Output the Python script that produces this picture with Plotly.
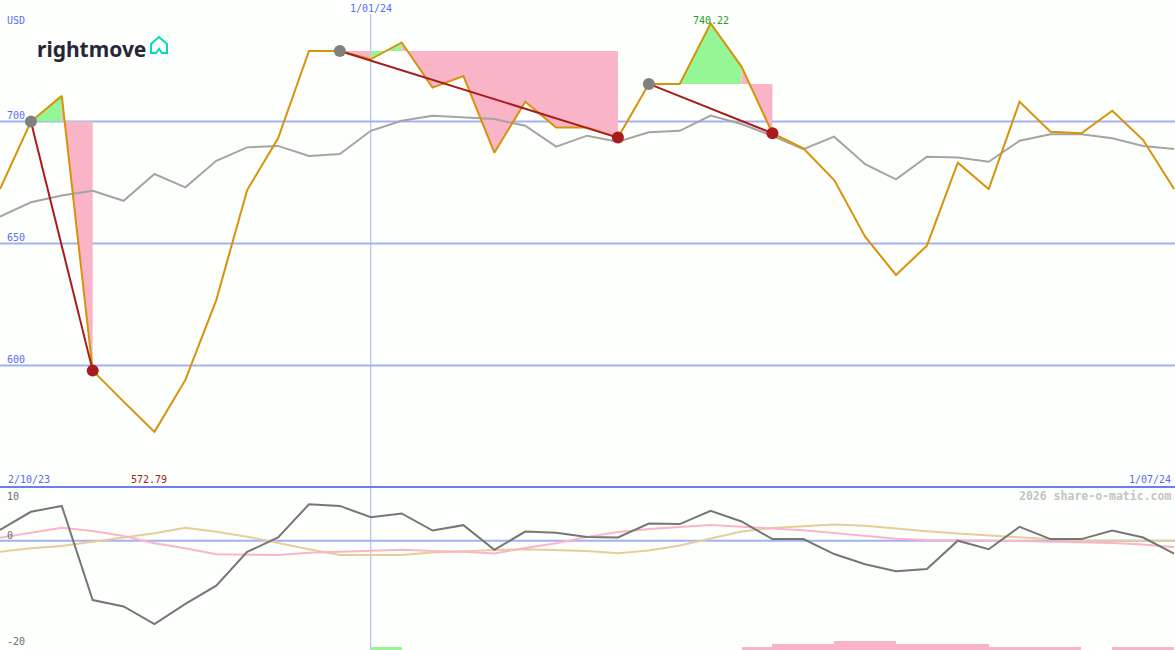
import plotly.graph_objects as go

W, H = 1175, 650

# ---------------- data ----------------
idx = list(range(39))
price = [672.3, 700.0, 710.5, 597.9, 585.2, 572.79, 594.1, 626.8, 671.9, 693.1,
         728.9, 728.9, 725.5, 732.4, 713.9, 718.6, 687.2, 708.1, 697.5, 697.5,
         693.4, 715.4, 715.4, 740.22, 722.5, 695.2, 689.0, 676.0, 652.8, 637.1,
         649.1, 683.1, 672.3, 708.1, 695.8, 695.2, 704.4, 692.4, 672.3]
avg = [661.0, 666.9, 669.7, 671.6, 667.5, 678.5, 673.0, 683.9, 689.4, 690.0,
       685.9, 686.7, 696.2, 700.3, 702.4, 701.7, 701.0, 698.3, 689.7, 694.2,
       691.7, 695.6, 696.2, 702.4, 699.0, 694.1, 688.7, 693.8, 682.5, 676.3,
       685.6, 685.2, 683.5, 692.1, 694.8, 694.8, 693.1, 690.0, 688.7]
momentum = [2.0, 5.4, 6.5, -11.1, -12.3, -15.6, -11.8, -8.4, -2.1, 0.6,
            6.8, 6.5, 4.4, 5.1, 1.9, 2.9, -1.7, 1.7, 1.5, 0.7,
            0.6, 3.2, 3.1, 5.6, 3.6, 0.3, 0.3, -2.5, -4.4, -5.7,
            -5.3, 0.0, -1.6, 2.6, 0.3, 0.3, 1.9, 0.6, -2.4]
osc_pink = [0.56, 1.5, 2.43, 1.81, 0.88, -0.49, -1.42, -2.54, -2.67, -2.67,
            -2.24, -2.06, -1.74, -1.68, -1.93, -2.06, -2.39, -1.36, -0.49, 0.69,
            1.63, 2.19, 2.56, 2.93, 2.62, 2.28, 1.94, 1.44, 0.88, 0.36,
            0.13, 0.13, 0.04, -0.06, -0.15, -0.24, -0.43, -0.71, -1.23]
osc_tan = [-2.06, -1.42, -0.99, -0.19, 0.64, 1.38, 2.43, 1.68, 0.75, -0.49,
           -1.61, -2.67, -2.67, -2.67, -2.22, -1.93, -1.74, -1.61, -1.74, -1.93,
           -2.36, -1.84, -0.90, 0.41, 1.72, 2.37, 2.65, 3.03, 2.80, 2.24,
           1.76, 1.35, 0.97, 0.60, 0.28, 0.07, 0.0, 0.0, 0.0]
# trend signals: (start index, end index)
signals = [(1, 3), (11, 20), (21, 25)]
# bottom bars (index -> level)
bars_green_idx = [12]
bars_green_lvl = [1]
bars_pink_idx = [24, 25, 26, 27, 28, 29, 30, 31, 32, 33, 34, 36, 37]
bars_pink_lvl = [1, 2, 2, 3, 3, 2, 2, 2, 1, 1, 1, 1, 1]
price_grid = [700, 650, 600]
osc_labels = [("10", 10), ("0", 0), ("-20", -20)]
date_left, date_mid, date_right = "2/10/23", "1/01/24", "1/07/24"
mid_idx = 12
hi_idx, lo_idx = 23, 5
currency = "USD"

# ---------------- style ----------------
BG = "#fcfffc"
GRID = "#a4b0f4"
SEP = "#6a7ef0"
BLUE_TXT = "#5a6cf5"
ORANGE = "#d8920a"
AVG_C = "#a4a4a4"
RED = "#a81c1c"
PINK = "#f9b4c8"
GREEN = "#94f694"
MOM_C = "#767676"
OSC_P = "#fcb4c8"
OSC_T = "#e6cd9c"
FONT = "DejaVu Sans Mono"

def px(x):
    return x / W

def py(y):
    return 1 - y / H

main_dom = [py(486), 1.0]
low_dom = [0.0, py(488)]
y_main = [550.61, 749.80]
y_low = [-20.43, 9.85]
x_rng = [0, 38.03]

fig = go.Figure()

# fills between price and signal level (contiguous runs merged)
for s, e in signals:
    L = price[s]
    runs = []
    for i in range(s, e):
        if price[i + 1] == L:
            continue
        col = GREEN if price[i + 1] > L else PINK
        if runs and runs[-1][0] == col and runs[-1][2] == i:
            runs[-1][2] = i + 1
        else:
            runs.append([col, i, i + 1])
    for col, a, b in runs:
        xs = [a] + list(range(a, b + 1)) + [b, a]
        ys = [L] + price[a:b + 1] + [L, L]
        fig.add_trace(go.Scatter(
            x=xs, y=ys, mode="lines", fill="toself", fillcolor=col,
            line=dict(width=0), hoverinfo="skip", showlegend=False,
            xaxis="x", yaxis="y"))

fig.add_trace(go.Scatter(x=idx, y=avg, mode="lines",
                         line=dict(color=AVG_C, width=2), showlegend=False,
                         xaxis="x", yaxis="y"))
fig.add_trace(go.Scatter(x=idx, y=price, mode="lines",
                         line=dict(color=ORANGE, width=2), showlegend=False,
                         xaxis="x", yaxis="y"))
for s, e in signals:
    fig.add_trace(go.Scatter(x=[s, e], y=[price[s], price[e]], mode="lines",
                             line=dict(color=RED, width=2), showlegend=False,
                             xaxis="x", yaxis="y"))
fig.add_trace(go.Scatter(x=[s for s, e in signals], y=[price[s] for s, e in signals],
                         mode="markers", marker=dict(color="#808080", size=12),
                         showlegend=False, xaxis="x", yaxis="y"))
fig.add_trace(go.Scatter(x=[e for s, e in signals], y=[price[e] for s, e in signals],
                         mode="markers", marker=dict(color=RED, size=12),
                         showlegend=False, xaxis="x", yaxis="y"))

# lower panel
fig.add_trace(go.Bar(x=bars_green_idx, y=bars_green_lvl, width=1, offset=0,
                     marker=dict(color=GREEN, line=dict(width=0)),
                     showlegend=False, xaxis="x", yaxis="y3"))
fig.add_trace(go.Bar(x=bars_pink_idx, y=bars_pink_lvl, width=1, offset=0,
                     marker=dict(color=PINK, line=dict(width=0)),
                     showlegend=False, xaxis="x", yaxis="y3"))
fig.add_trace(go.Scatter(x=idx, y=osc_tan, mode="lines",
                         line=dict(color=OSC_T, width=2), showlegend=False,
                         xaxis="x", yaxis="y2"))
fig.add_trace(go.Scatter(x=idx, y=osc_pink, mode="lines",
                         line=dict(color=OSC_P, width=2), showlegend=False,
                         xaxis="x", yaxis="y2"))
fig.add_trace(go.Scatter(x=idx, y=momentum, mode="lines",
                         line=dict(color=MOM_C, width=2), showlegend=False,
                         xaxis="x", yaxis="y2"))

shapes = []
for g in price_grid:
    shapes.append(dict(type="line", xref="paper", yref="y", x0=0, x1=1, y0=g, y1=g,
                       line=dict(color=GRID, width=2), layer="below"))
shapes.append(dict(type="line", xref="paper", yref="y2", x0=0, x1=1, y0=0, y1=0,
                   line=dict(color=GRID, width=2), layer="below"))
shapes.append(dict(type="line", xref="x", yref="paper", x0=mid_idx, x1=mid_idx,
                   y0=0, y1=py(14), line=dict(color=GRID, width=1), layer="below"))
shapes.append(dict(type="line", xref="paper", yref="paper", x0=0, x1=1,
                   y0=py(487), y1=py(487), line=dict(color=SEP, width=2)))
# rightmove house icon
hx = [151, 159, 167, 167, 162, 159, 156, 151]
hy = [44, 37, 44, 53, 53, 49, 53, 53]
path = "M" + " L".join(f"{px(a):.5f},{py(b):.5f}" for a, b in zip(hx, hy)) + " Z"
shapes.append(dict(type="path", xref="paper", yref="paper", path=path,
                   line=dict(color="#00deb6", width=2), fillcolor="rgba(0,0,0,0)"))

ann = []
def txt(t, x, y, color, size=10, xanchor="left", weight="normal", xref="paper"):
    ann.append(dict(text=t, x=x, y=py(y), xref=xref, yref="paper", showarrow=False,
                    xanchor=xanchor, yanchor="middle",
                    font=dict(family=FONT, size=size, color=color, weight=weight)))

txt(currency, px(5), 20, BLUE_TXT)
for g in price_grid:
    ypx = 121.5 + (700 - g) * 2.44
    txt(str(g), px(5), ypx - 6, BLUE_TXT)
txt(date_mid, mid_idx, 9, BLUE_TXT, xanchor="center", xref="x")
txt(f"{price[hi_idx]:.2f}", hi_idx, 21, "#22a022", xanchor="center", xref="x")
txt(f"{price[lo_idx]:.2f}", px(129), 479, RED)
txt(date_left, px(6), 479, BLUE_TXT)
txt(date_right, px(1173), 479, BLUE_TXT, xanchor="right")
txt("2026 share-o-matic.com", px(1173), 496, "#c4c4c4", size=11.5,
    xanchor="right", weight="bold")
for t, v in osc_labels:
    ypx = 540.7 - v * 5.35
    ypx = min(max(ypx, 496), 641)
    if v == 0:
        ypx = 535
    txt(t, px(5), ypx, "#6e6e6e")
ann.append(dict(text="rightmove", x=px(35), y=py(49), xref="paper", yref="paper",
                showarrow=False, xanchor="left", yanchor="middle",
                font=dict(family="Noto Sans", size=21, color="#262637", weight="bold")))

fig.update_layout(
    width=W, height=H, margin=dict(l=0, r=0, t=0, b=0),
    paper_bgcolor=BG, plot_bgcolor=BG, showlegend=False, bargap=0,
    barmode="overlay",
    xaxis=dict(range=x_rng, domain=[0, 1], visible=False, fixedrange=True),
    yaxis=dict(range=y_main, domain=main_dom, visible=False),
    yaxis2=dict(range=y_low, domain=low_dom, visible=False, anchor="x"),
    yaxis3=dict(range=[0, 54], domain=low_dom, visible=False, anchor="x",
                overlaying="y2"),
    shapes=shapes, annotations=ann,
)

fig.write_html(
    "out.html",
    config={"displayModeBar": False},
    post_script="document.body.style.margin='0';document.body.style.padding='0';"
                "document.body.style.overflow='hidden';",
)
